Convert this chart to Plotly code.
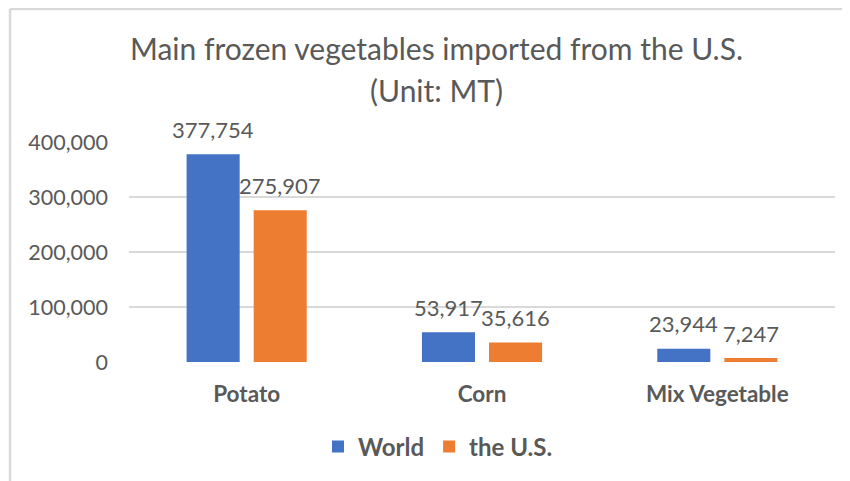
import plotly.graph_objects as go

categories = ["Potato", "Corn", "Mix Vegetable"]
world = [377754, 53917, 23944]
us = [275907, 35616, 7247]
series_names = ["World", "the U.S."]
y_ticks = [0, 100000, 200000, 300000, 400000]
y_tick_labels = ["0", "100,000", "200,000", "300,000", "400,000"]
title_lines = ["Main frozen vegetables imported from the U.S.", "(Unit: MT)"]

W, H = 850, 481
OFF = 8  # page body margin
# plot area in page pixels
PX0, PX1, PY0, PY1 = 129, 835, 142, 362
ML, MT = PX0 - OFF, PY0 - OFF
MR, MB = W - (PX1 - OFF), H - (PY1 - OFF)
PW, PH = PX1 - PX0, PY1 - PY0

def px(x):
    return (x - PX0) / PW

def py(y):
    return (PY1 - y) / PH

TEXT = "#595959"
FONT = "Lato"
BARGAP, GROUPGAP = 0.43, 0.209

fig = go.Figure()
colors = ["#4472C4", "#ED7D31"]
all_vals = [world, us]
slot = PW / len(categories) * (1 - BARGAP) / len(all_vals)
for i, (name, vals, col) in enumerate(zip(series_names, all_vals, colors)):
    fig.add_trace(go.Bar(x=categories, y=vals, name=name, marker_color=col, marker_line_width=0))
    shift = (i - (len(all_vals) - 1) / 2) * slot
    for c, v in zip(categories, vals):
        fig.add_annotation(x=c, y=v, xref="x", yref="y", text=f"{v:,}", showarrow=False,
                           xanchor="center", yanchor="middle", xshift=shift, yshift=25,
                           font=dict(family=FONT, size=22, color=TEXT))

for txt, yy in zip(title_lines, [48, 90]):
    fig.add_annotation(text=txt, xref="paper", yref="paper", x=px(436.5), y=py(yy),
                       xanchor="center", yanchor="middle", showarrow=False,
                       font=dict(family=FONT, size=30, color=TEXT))

border = "#D9D9D9"
fig.add_shape(type="line", xref="paper", yref="paper", x0=px(10), x1=px(860), y0=py(9), y1=py(9),
              line=dict(color=border, width=2.5))
fig.add_shape(type="line", xref="paper", yref="paper", x0=px(10), x1=px(10), y0=py(9), y1=py(490),
              line=dict(color=border, width=2.5))

fig.update_layout(
    width=W, height=H,
    margin=dict(l=ML, r=MR, t=MT, b=MB, pad=0),
    paper_bgcolor="white", plot_bgcolor="white",
    barmode="group", bargap=BARGAP, bargroupgap=GROUPGAP,
    font=dict(family=FONT, color=TEXT),
    legend=dict(orientation="h", x=px(438), y=py(447), xanchor="center", yanchor="middle",
                font=dict(family=FONT, size=24, color=TEXT, weight="bold"),
                traceorder="normal"),
    xaxis=dict(showgrid=False, showline=False, ticks="", ticklabelstandoff=16,
               tickfont=dict(family=FONT, size=22.5, color=TEXT, weight="bold")),
    yaxis=dict(range=[0, 400000], tickvals=y_ticks, ticktext=y_tick_labels,
               showgrid=True, gridcolor=border, gridwidth=2, zeroline=False, showline=False,
               ticks="", ticklabelstandoff=20,
               tickfont=dict(family=FONT, size=21.5, color=TEXT)),
    showlegend=True,
)

fig.write_html("out.html")
